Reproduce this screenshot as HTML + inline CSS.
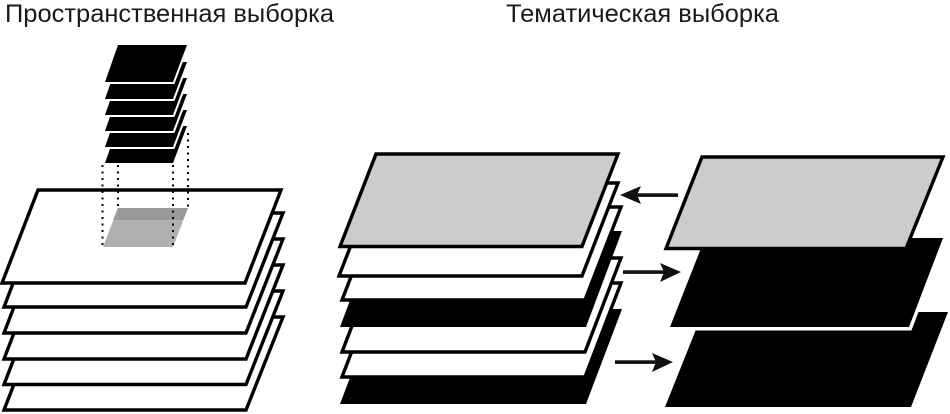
<!DOCTYPE html>
<html lang="ru">
<head>
<meta charset="utf-8">
<title>Выборка</title>
<style>
html,body{margin:0;padding:0;background:#fff;width:950px;height:414px;overflow:hidden}
svg{display:block}
text{font-family:"Liberation Sans",sans-serif;font-size:25px;fill:#1a1a1a}
.w{fill:#fff;stroke:#000;stroke-width:3.400;stroke-linejoin:miter}
.k{fill:#000;stroke:#fff;stroke-width:4;paint-order:stroke}
.d{stroke:#000;stroke-width:2;stroke-dasharray:2 4.500;fill:none}
</style>
</head>
<body>
<svg width="950" height="414" viewBox="0 0 950 414" xmlns="http://www.w3.org/2000/svg">
<rect width="950" height="414" fill="#fff"/>
<text x="5" y="22" textLength="329" lengthAdjust="spacingAndGlyphs">Пространственная выборка</text>
<text x="506" y="22" textLength="273" lengthAdjust="spacingAndGlyphs">Тематическая выборка</text>

<!-- left stack -->
<polygon class="w" points="40,317 283,317 246,410 4,410"/>
<polygon class="w" points="40,291 283,291 246,384.500 4,384.500"/>
<polygon class="w" points="40,265 283,265 246,359 4,359"/>
<polygon class="w" points="40,239 283,239 246,333 4,333"/>
<polygon class="w" points="40,213 283,213 246,307 4,307"/>
<polygon class="w" points="38,190 281,190 245,283 2,283"/>

<!-- selection on the top plane -->
<polygon points="118,208 188,208 173,247 103,247" fill="#b0b0b0"/>
<polygon points="118,208 188,208 183,220 113,220" fill="#999"/>

<!-- small stack -->
<polygon class="k" points="118,126 187,126 173,163 105,163"/>
<polygon class="k" points="118,110 187,110 173,147 105,147"/>
<polygon class="k" points="118,94 187,94 173,131 105,131"/>
<polygon class="k" points="118,78 187,78 173,115 105,115"/>
<polygon class="k" points="118,62 187,62 173,99 105,99"/>
<polygon class="k" points="118,45 187,45 173,82 105,82"/>

<!-- dotted projection lines -->
<line class="d" x1="102.500" y1="165" x2="102.500" y2="247"/>
<line class="d" x1="118" y1="165" x2="118" y2="208"/>
<line class="d" x1="173" y1="165" x2="173" y2="247"/>
<line class="d" x1="188" y1="133" x2="188" y2="208"/>

<!-- middle stack -->
<polygon points="376,309 622,309 586,404 340,404" fill="#000"/>
<polygon class="w" points="378,283 621,283 585,377 342,377"/>
<polygon class="w" points="378,258 621,258 585,352 342,352"/>
<polygon points="376,231 622,231 586,327 340,327" fill="#000"/>
<polygon class="w" points="378,207 621,207 585,300 342,300"/>
<polygon class="w" points="375,183 618,183 582,276 339,276"/>
<polygon class="w" points="376,154 618,154 582,246.500 340,246.500" style="fill:#ccc"/>

<!-- right stack -->
<polygon points="703,312 948,312 911,407 665,407" fill="#000"/>
<polygon points="705,238 943,238 909,327 670,327" fill="#000" stroke="#fff" stroke-width="7" paint-order="stroke"/>
<polygon class="w" points="702,157 943,157 906,248.500 666,248.500" style="fill:#ccc"/>

<!-- arrows -->
<g fill="#111" stroke="none">
<rect x="636" y="193.300" width="42" height="3.600"/>
<polygon points="620,195 641,186 637,195 641,204"/>
<rect x="623" y="270.300" width="42" height="3.600"/>
<polygon points="681,272 660,263 664,272 660,282"/>
<rect x="615" y="360.300" width="42" height="3.600"/>
<polygon points="673,362 652,353 656,362 652,372"/>
</g>
</svg>
</body>
</html>
